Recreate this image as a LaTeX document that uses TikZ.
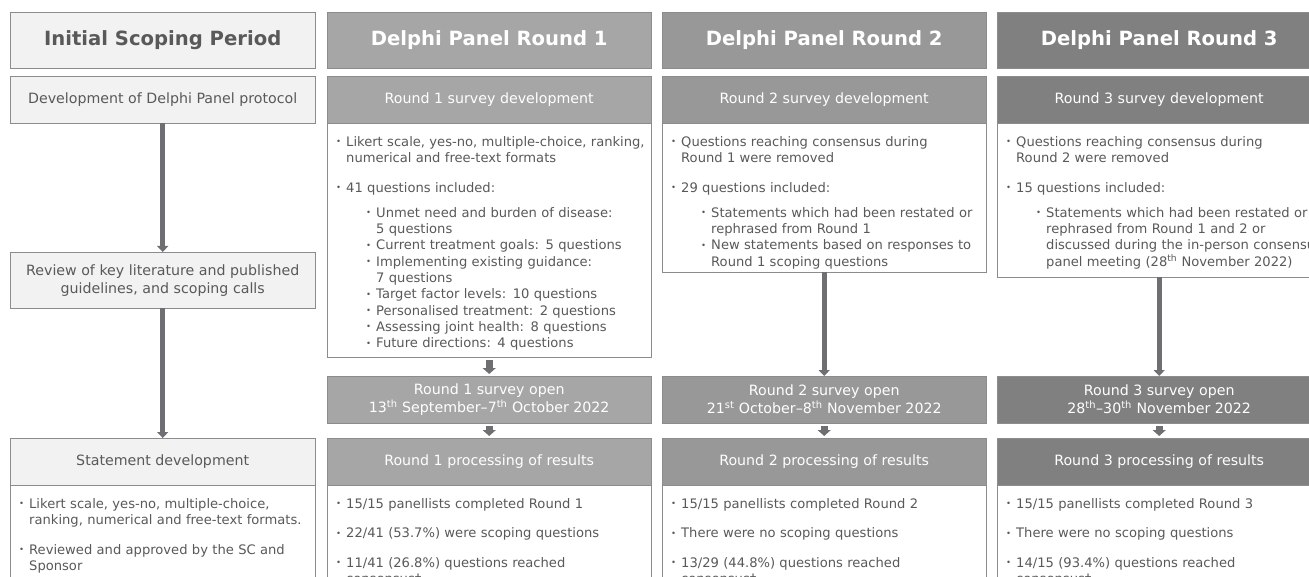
\documentclass[tikz,border=0pt]{standalone}
\usepackage{fontspec}
\setmainfont{DejaVu Sans}
\usetikzlibrary{positioning,arrows.meta}

\definecolor{scopefill}{HTML}{F2F2F2}
\definecolor{edgegray}{HTML}{8C8C8C}
\definecolor{txtgray}{HTML}{595959}
\definecolor{roundone}{HTML}{A6A6A6}
\definecolor{roundtwo}{HTML}{989898}
\definecolor{roundthree}{HTML}{808080}
\definecolor{arrowgray}{HTML}{6E6E73}

\newcommand{\headfont}{\fontsize{19.6}{24}\selectfont\bfseries}
\newcommand{\stepfont}{\fontsize{14.2}{18}\selectfont}
\newcommand{\listfont}{\fontsize{13.1}{16.3}\selectfont}
\newcommand{\dotmark}{\raisebox{1.6pt}{\fontsize{8.5}{8.5}\selectfont\textbullet}}
\newcommand{\itm}{\par\leftskip=0pt\hangindent=10pt\hangafter=1\noindent\makebox[10pt][l]{\dotmark}}
\newcommand{\subitm}{\par\leftskip=30pt\hangindent=10pt\hangafter=1\noindent\makebox[10pt][l]{\dotmark}}
\newcommand{\gap}{\par\vspace{13pt}}
\newcommand{\subgap}{\par\vspace{9pt}}

\tikzset{colhead/.style={draw=edgegray,fill=#1,text=white,anchor=north west,minimum width=324pt,minimum height=56pt,inner sep=0pt,font=\headfont},colhead/.default=roundone}
\tikzset{stephead/.style={draw=edgegray,fill=#1,text=white,anchor=north west,minimum width=324pt,minimum height=47pt,inner sep=0pt,align=center,font=\stepfont},stephead/.default=roundone}
\tikzset{scopebox/.style={draw=edgegray,fill=scopefill,text=txtgray,anchor=north west,minimum width=305pt,minimum height=#1,inner sep=0pt,align=center,font=\stepfont},scopebox/.default=47pt}
\tikzset{bodybox/.style={draw=edgegray,fill=white,anchor=north west,minimum width=#1,inner sep=0pt},bodybox/.default=324pt}
\tikzset{bodytext/.style={anchor=north west,inner sep=0pt,text=txtgray,text width=360pt,align=left,font=\listfont}}
\tikzset{longarrow/.style={draw=arrowgray,line width=5pt,-{Triangle[width=11pt,length=6pt]}}}
\tikzset{shortarrow/.style={draw=arrowgray,line width=7pt,-{Triangle[width=13pt,length=6pt]},shorten <=3pt,shorten >=2pt}}

\begin{document}
\begin{tikzpicture}[x=1pt,y=-1pt]

	\useasboundingbox (0,0) rectangle (1309,577);
	\clip (0,0) rectangle (1309,577);

	% Initial scoping period
	\node [scopebox=56pt, font=\headfont] (scopehead) at (10,12) {Initial Scoping Period};
	\node [scopebox] (protocol) at (10,76) {Development of Delphi Panel protocol};
	\node [scopebox=56pt] (review) at (10,252) {Review of key literature and published\\guidelines, and scoping calls};
	\node [scopebox] (stmthead) at (10,438) {Statement development};
	\node [bodybox=305pt, minimum height=120pt] (stmtbody) at (10,485) {};
	\node [bodytext] (stmtlist) at ([xshift=9pt,yshift=-7pt]stmtbody.north west) {%
		\itm Likert scale, yes-no, multiple-choice,\newline ranking, numerical and free-text formats.
		\gap\itm Reviewed and approved by the SC and\newline Sponsor\par};

	\draw [longarrow] (protocol.south) -- (review.north);
	\draw [longarrow] (review.south) -- (stmthead.north);

	% Round 1
	\node [colhead] (onehead) at (327,12) {Delphi Panel Round 1};
	\node [stephead] (onedev) at (327,76) {Round 1 survey development};
	\node [bodybox, minimum height=234pt] (onebody) at (327,123) {};
	\node [bodytext] (onelist) at ([xshift=9pt,yshift=-7pt]onebody.north west) {%
		\itm Likert scale, yes-no, multiple-choice, ranking,\newline numerical and free-text formats
		\gap\itm 41 questions included:
		\subgap\subitm Unmet need and burden of disease:\newline 5 questions
		\subitm Current treatment goals: 5 questions
		\subitm Implementing existing guidance:\newline 7 questions
		\subitm Target factor levels: 10 questions
		\subitm Personalised treatment: 2 questions
		\subitm Assessing joint health: 8 questions
		\subitm Future directions: 4 questions\par};
	\node [stephead] (oneopen) at (327,376) {Round 1 survey open\\13\textsuperscript{th} September--7\textsuperscript{th} October 2022};
	\node [stephead] (oneproc) at (327,438) {Round 1 processing of results};
	\node [bodybox, minimum height=120pt] (oneres) at (327,485) {};
	\node [bodytext] (oneresl) at ([xshift=9pt,yshift=-7pt]oneres.north west) {%
		\itm 15/15 panellists completed Round 1
		\gap\itm 22/41 (53.7\%) were scoping questions
		\gap\itm 11/41 (26.8\%) questions reached\newline consensus\textdagger\par};

	\draw [shortarrow] (onebody.south) -- (oneopen.north);
	\draw [shortarrow] (oneopen.south) -- (oneproc.north);

	% Round 2
	\node [colhead=roundtwo] (twohead) at (662,12) {Delphi Panel Round 2};
	\node [stephead=roundtwo] (twodev) at (662,76) {Round 2 survey development};
	\node [bodybox, minimum height=149pt] (twobody) at (662,123) {};
	\node [bodytext] (twolist) at ([xshift=9pt,yshift=-7pt]twobody.north west) {%
		\itm Questions reaching consensus during\newline Round 1 were removed
		\gap\itm 29 questions included:
		\subgap\subitm Statements which had been restated or\newline rephrased from Round 1
		\subitm New statements based on responses to\newline Round 1 scoping questions\par};
	\node [stephead=roundtwo] (twoopen) at (662,376) {Round 2 survey open\\21\textsuperscript{st} October--8\textsuperscript{th} November 2022};
	\node [stephead=roundtwo] (twoproc) at (662,438) {Round 2 processing of results};
	\node [bodybox, minimum height=120pt] (twores) at (662,485) {};
	\node [bodytext] (tworesl) at ([xshift=9pt,yshift=-7pt]twores.north west) {%
		\itm 15/15 panellists completed Round 2
		\gap\itm There were no scoping questions
		\gap\itm 13/29 (44.8\%) questions reached\newline consensus\textdagger\par};

	\draw [longarrow] (twobody.south) -- (twoopen.north);
	\draw [shortarrow] (twoopen.south) -- (twoproc.north);

	% Round 3
	\node [colhead=roundthree] (threehead) at (997,12) {Delphi Panel Round 3};
	\node [stephead=roundthree] (threedev) at (997,76) {Round 3 survey development};
	\node [bodybox, minimum height=154pt] (threebody) at (997,123) {};
	\node [bodytext] (threelist) at ([xshift=9pt,yshift=-7pt]threebody.north west) {%
		\itm Questions reaching consensus during\newline Round 2 were removed
		\gap\itm 15 questions included:
		\subgap\subitm Statements which had been restated or\newline rephrased from Round 1 and 2 or\newline discussed during the in-person consensus\newline panel meeting (28\textsuperscript{th} November 2022)\par};
	\node [stephead=roundthree] (threeopen) at (997,376) {Round 3 survey open\\28\textsuperscript{th}--30\textsuperscript{th} November 2022};
	\node [stephead=roundthree] (threeproc) at (997,438) {Round 3 processing of results};
	\node [bodybox, minimum height=120pt] (threeres) at (997,485) {};
	\node [bodytext] (threeresl) at ([xshift=9pt,yshift=-7pt]threeres.north west) {%
		\itm 15/15 panellists completed Round 3
		\gap\itm There were no scoping questions
		\gap\itm 14/15 (93.4\%) questions reached\newline consensus\textdagger\par};

	\draw [longarrow] (threebody.south) -- (threeopen.north);
	\draw [shortarrow] (threeopen.south) -- (threeproc.north);

\end{tikzpicture}
\end{document}
